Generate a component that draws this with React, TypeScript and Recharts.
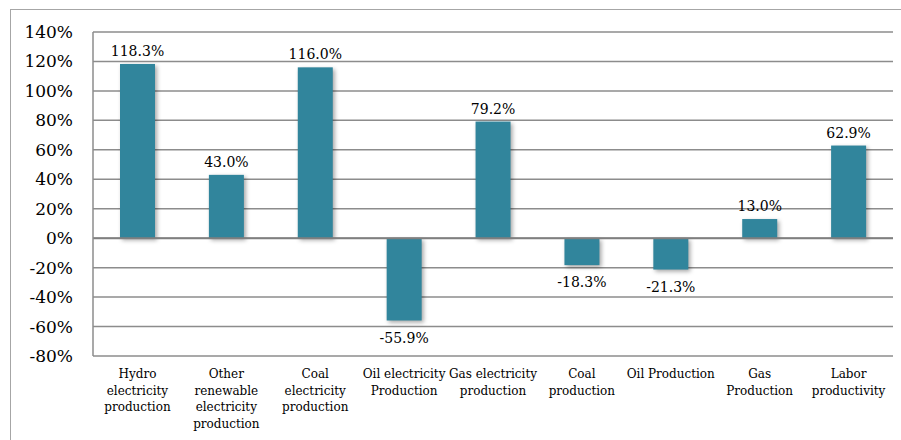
import React from "react";
import { BarChart, Bar, XAxis, YAxis, CartesianGrid, LabelList, ReferenceLine } from "recharts";

const categories: string[] = [
  "Hydro\nelectricity\nproduction",
  "Other\nrenewable\nelectricity\nproduction",
  "Coal\nelectricity\nproduction",
  "Oil electricity\nProduction",
  "Gas electricity\nproduction",
  "Coal\nproduction",
  "Oil Production",
  "Gas\nProduction",
  "Labor\nproductivity",
];
const changes: number[] = [118.3, 43.0, 116.0, -55.9, 79.2, -18.3, -21.3, 13.0, 62.9];
const yTicks: number[] = [-80, -60, -40, -20, 0, 20, 40, 60, 80, 100, 120, 140];

const data = categories.map((c, i) => ({ category: c, value: changes[i] }));

const FONT = "'DejaVu Serif', serif";

const CategoryTick = (props: any) => {
  const { x, y, payload } = props;
  const lines = String(payload.value).split("\n");
  return (
    <text x={x} y={y} textAnchor="middle" fontFamily={FONT} fontSize={12} fill="#000">
      {lines.map((l, i) => (
        <tspan key={i} x={x} dy={i === 0 ? 12 : 16.7}>
          {l}
        </tspan>
      ))}
    </text>
  );
};

const ValueLabel = (props: any) => {
  const { x, y, width, height, value } = props;
  const cx = x + width / 2;
  const neg = value < 0;
  const ty = neg ? Math.max(y, y + height) + 17 : Math.min(y, y + height) - 13;
  return (
    <text x={cx} y={ty} textAnchor="middle" dominantBaseline="central" fontFamily={FONT} fontSize={14} fill="#000">
      {value.toFixed(1) + "%"}
    </text>
  );
};

const ShadowBar = (props: any) => {
  const { x, y, width, height, fill } = props;
  const h = Math.abs(height);
  const top = height < 0 ? y + height : y;
  return (
    <rect
      x={x}
      y={top}
      width={width}
      height={h}
      fill={fill}
      style={{ filter: "drop-shadow(2px 2px 2px rgba(0,0,0,0.35))" }}
    />
  );
};

export default function App() {
  return (
    <div style={{ position: "absolute", left: 0, top: 0, width: 901, height: 440, overflow: "hidden", background: "#fff" }}>
      <div
        style={{
          position: "absolute",
          left: 10,
          top: 9,
          width: 920,
          height: 500,
          border: "1px solid #a6a6a6",
          boxSizing: "border-box",
        }}
      />
      <div style={{ position: "absolute", left: 0, top: 0 }}>
        <BarChart width={901} height={440} data={data} margin={{ top: 32, right: 8, bottom: 0, left: 0 }} barSize={35}>
          <CartesianGrid vertical={false} stroke="#8c8c8c" strokeWidth={1.5} />
          <XAxis
            dataKey="category"
            height={84}
            axisLine={false}
            tickLine={false}
            interval={0}
            tick={<CategoryTick />}
            tickSize={0}
            tickMargin={10}
          />
          <YAxis
            width={93}
            domain={[-80, 140]}
            ticks={yTicks}
            interval={0}
            tickFormatter={(v: number) => `${v}%`}
            axisLine={{ stroke: "#8c8c8c", strokeWidth: 1.5 }}
            tickLine={false}
            tickSize={0}
            tickMargin={20}
            tick={{ fontFamily: FONT, fontSize: 17, fill: "#000" }}
          />
          <ReferenceLine y={0} stroke="#7f7f7f" strokeWidth={2} />
          <Bar dataKey="value" fill="#31859c" isAnimationActive={false} shape={<ShadowBar />}>
            <LabelList dataKey="value" content={<ValueLabel />} />
          </Bar>
        </BarChart>
      </div>
    </div>
  );
}
